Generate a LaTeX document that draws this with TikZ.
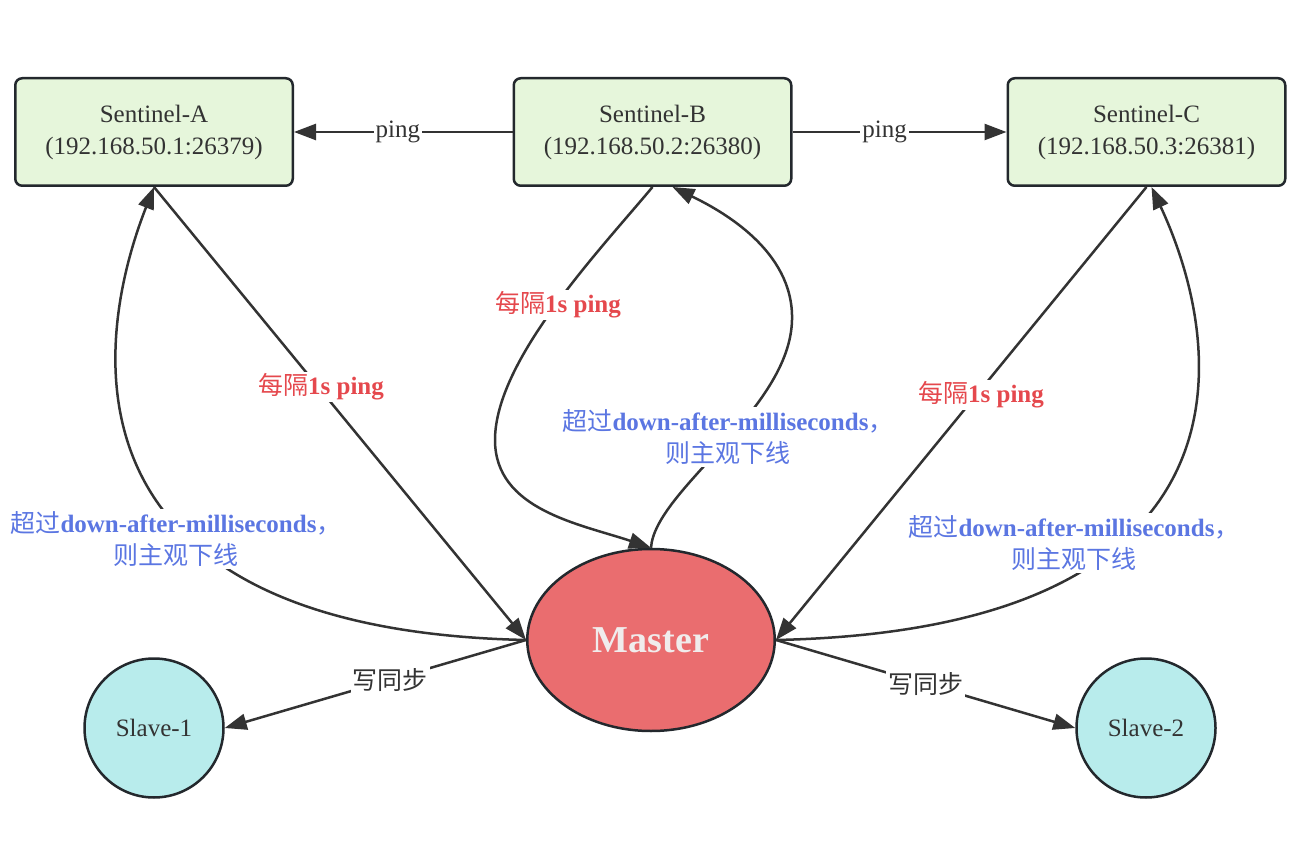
\documentclass[tikz,border=0pt]{standalone}
\usepackage{fontspec}
\setmainfont{Liberation Serif}
\newfontfamily\cjk{Noto Sans CJK SC}
\usetikzlibrary{arrows.meta,shapes.geometric}

\definecolor{edgecol}{HTML}{23282D}
\definecolor{linecol}{HTML}{333333}
\definecolor{textcol}{HTML}{333333}
\definecolor{boxgreen}{HTML}{E6F6DB}
\definecolor{masterfill}{HTML}{EA6D6F}
\definecolor{mastertext}{HTML}{F0ECEC}
\definecolor{slavefill}{HTML}{B8ECEC}
\definecolor{redtext}{HTML}{E5484D}
\definecolor{bluetext}{HTML}{5B76E2}

\newcommand\zh[1]{{\cjk #1}}

\begin{document}
\begin{tikzpicture}[x=1pt,y=-1pt,
  every node/.style={text=textcol},
  basefont/.style={font=\fontsize{25}{32}\selectfont},
  sentinel/.style={basefont, draw=edgecol, line width=2.5pt, fill=boxgreen,
    rounded corners=7pt, minimum width=277.5pt, minimum height=107.5pt,
    align=center, inner sep=0pt},
  masternode/.style={ellipse, draw=edgecol, line width=2.5pt, fill=masterfill,
    minimum width=247.5pt, minimum height=182pt, inner sep=0pt,
    text=mastertext, font=\fontsize{38}{40}\selectfont\bfseries},
  slavenode/.style={basefont, circle, draw=edgecol, line width=2.5pt,
    fill=slavefill, minimum size=139pt, inner sep=0pt},
  link/.style={draw=linecol, line width=2.5pt,
    -{Triangle[length=22pt,width=16pt]}},
  lbl/.style={basefont, fill=white, inner sep=2pt, align=center},
  redlbl/.style={lbl, text=redtext},
  bluelbl/.style={lbl, text=bluetext},
]
\useasboundingbox[fill=white] (0,0) rectangle (1304,842);

% sentinels
\node[sentinel] (A) at (154,132) {Sentinel-A\\(192.168.50.1:26379)};
\node[sentinel] (B) at (652.5,132) {Sentinel-B\\(192.168.50.2:26380)};
\node[sentinel] (C) at (1146.5,132) {Sentinel-C\\(192.168.50.3:26381)};

% master and slaves
\node[masternode] (M) at (651,640) {Master};
\node[slavenode] (S1) at (154,728) {Slave-1};
\node[slavenode] (S2) at (1146,728) {Slave-2};

% sentinel-to-sentinel pings
\draw[link] (B.west) -- node[lbl, pos=0.525] {ping} (A.east);
\draw[link] (B.east) -- node[lbl, pos=0.43] {ping} (C.west);

% periodic pings from sentinels to master
\draw[link] (A.south) -- (M.west)
  node[redlbl] at (321,387) {\zh{每隔}\textbf{1s ping}};
\draw[link] (C.south) -- (M.east)
  node[redlbl] at (981,395) {\zh{每隔}\textbf{1s ping}};
\draw[link] (B.south) .. controls (600,250) and (495,360) .. (495,440)
  .. controls (495,510) and (580,524) .. (M.north)
  node[redlbl] at (558,305) {\zh{每隔}\textbf{1s ping}};

% subjective down notifications
\draw[link] (M.west) .. controls (60,630) and (90,350) .. (A.south)
  node[bluelbl] at (176,539)
  {\zh{超过}\textbf{down-after-milliseconds}\zh{，}\\\zh{则主观下线}};
\draw[link] (M.east) .. controls (1252,630) and (1232,360) .. ([xshift=5pt]C.south)
  node[bluelbl] at (1074,543)
  {\zh{超过}\textbf{down-after-milliseconds}\zh{，}\\\zh{则主观下线}};
\draw[link] (M.north) .. controls (655,490) and (790,410) .. (792,320)
  .. controls (794,250) and (720,210) .. ([xshift=20pt]B.south)
  node[bluelbl] at (728,437)
  {\zh{超过}\textbf{down-after-milliseconds}\zh{，}\\\zh{则主观下线}};

% replication
\draw[link] (M.west) -- node[lbl, pos=0.45] {\zh{写同步}} (S1.east);
\draw[link] (M.east) -- node[lbl, pos=0.5] {\zh{写同步}} (S2.west);
\end{tikzpicture}
\end{document}
